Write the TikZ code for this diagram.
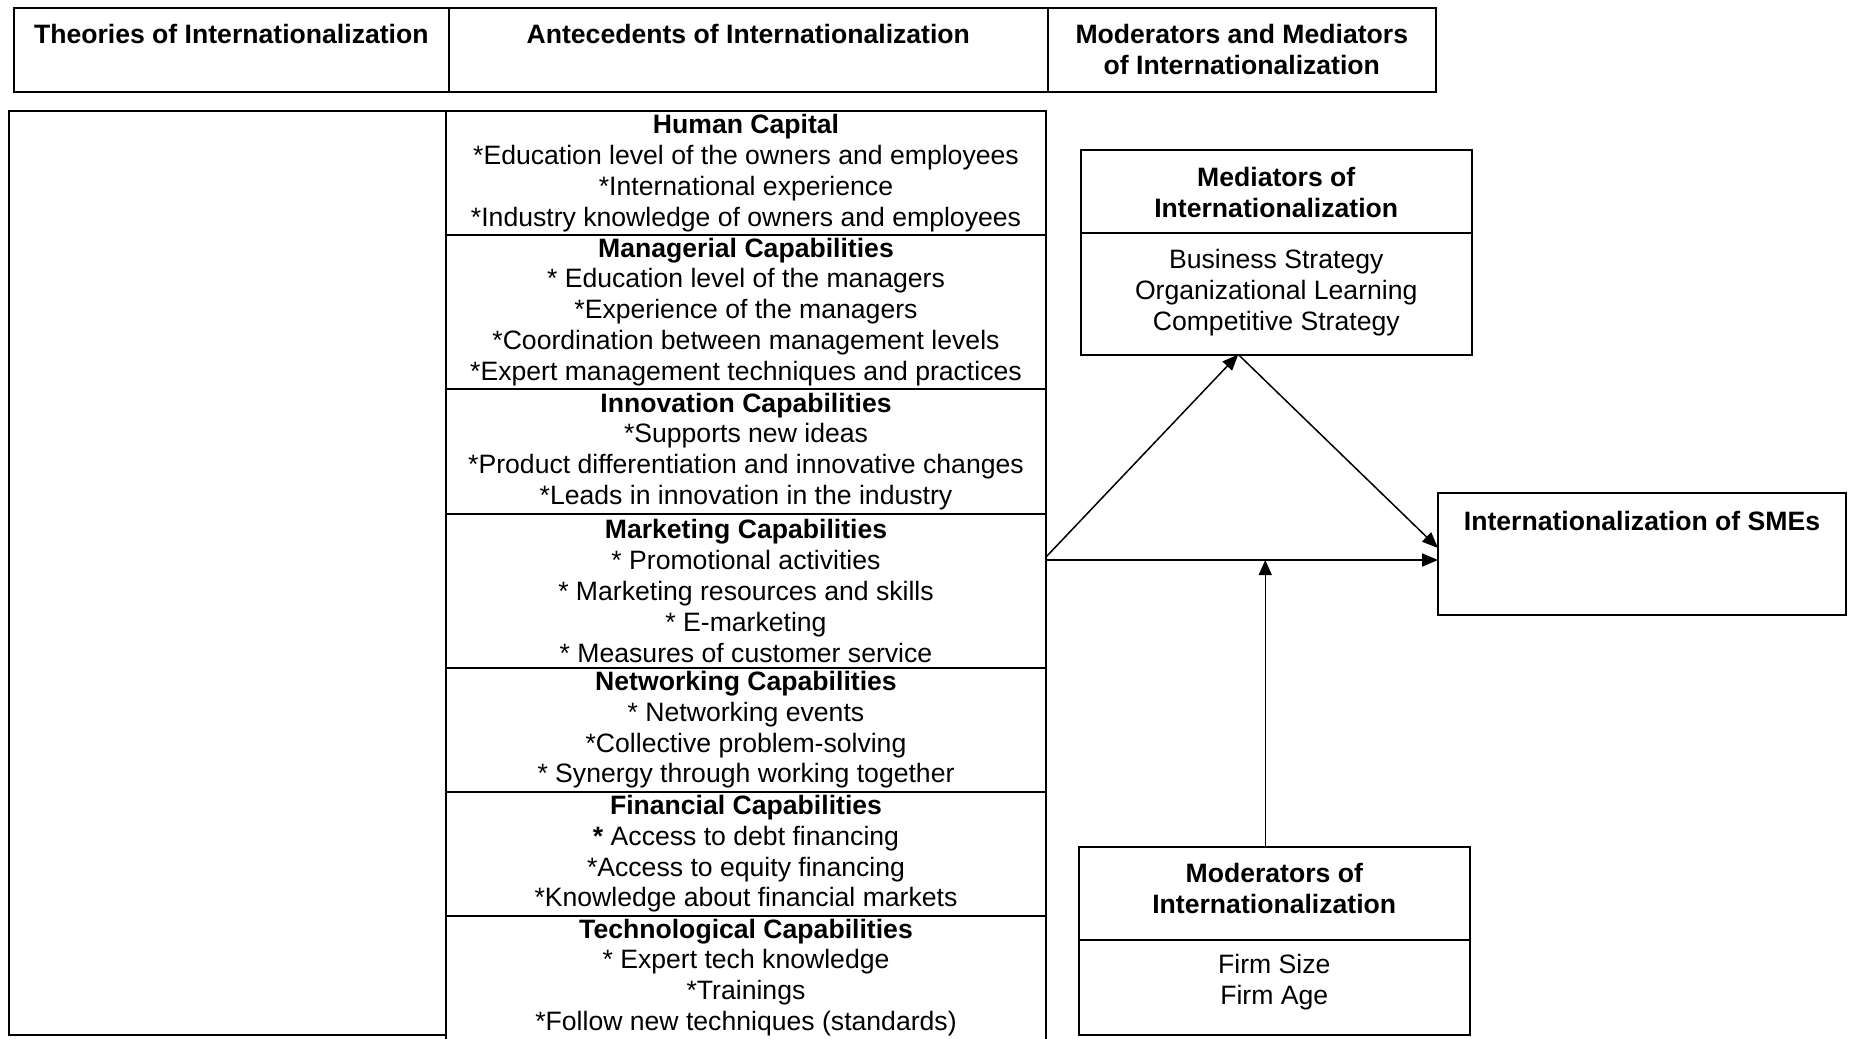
\documentclass[tikz,border=0pt]{standalone}
\usepackage{fontspec}
\setmainfont{Liberation Sans}
\usetikzlibrary{arrows.meta,calc}
\newcommand\diagfont{\fontsize{26.6pt}{30.9pt}\selectfont}
\tikzset{
  frame/.style={draw, line width=2pt, inner sep=0pt, outer sep=0pt},
  sec/.style={frame, anchor=north west, minimum width=600pt, align=center, font=\diagfont},
  txt/.style={inner sep=0pt, outer sep=0pt, align=center, font=\diagfont},
  ttl/.style={txt, font=\diagfont\bfseries},
  arr/.style={line width=1.8pt, -{Triangle[length=16pt,width=13pt]}},
  darr/.style={line width=1.5pt, -{Triangle[length=16pt,width=13pt]}},
  varr/.style={line width=1.3pt, -{Triangle[length=15pt,width=13pt]}}
}
\begin{document}
\begin{tikzpicture}[x=1pt,y=-1pt]
\useasboundingbox (0,0) rectangle (1851,1038);

% header row
\node[frame, anchor=north west, minimum width=434.6pt, minimum height=84.5pt] (h1) at (14,8) {};
\node[frame, anchor=north west, minimum width=599.4pt, minimum height=84.5pt] (h2) at (h1.north east) {};
\node[frame, anchor=north west, minimum width=387.5pt, minimum height=84.5pt] (h3) at (h2.north east) {};
\node[ttl, anchor=base] (t1) at (231.3,43.5) {Theories of Internationalization};
\node[ttl, anchor=base] (t2) at (748.3,43.5) {Antecedents of Internationalization};
\node[ttl, anchor=north] (t3) at (1241.8,24.5) {Moderators and Mediators\\of Internationalization};

% theories column
\node[frame, anchor=north west, minimum width=437.5pt, minimum height=924pt] (theo) at (8.5,111) {};

% antecedents column
\node[sec, minimum height=124pt] (hc) at (446,111)
  {\textbf{Human Capital}\\*Education level of the owners and employees\\*International experience\\*Industry knowledge of owners and employees};
\node[sec, minimum height=154pt] (mgr) at (hc.south west)
  {\textbf{Managerial Capabilities}\\* Education level of the managers\\*Experience of the managers\\*Coordination between management levels\\*Expert management techniques and practices};
\node[sec, minimum height=125pt] (inn) at (mgr.south west)
  {\textbf{Innovation Capabilities}\\*Supports new ideas\\*Product differentiation and innovative changes\\*Leads in innovation in the industry};
\node[sec, minimum height=153.5pt] (mkt) at (inn.south west)
  {\textbf{Marketing Capabilities}\\* Promotional activities\\* Marketing resources and skills\\* E-marketing\\* Measures of customer service};
\node[sec, minimum height=124.5pt] (net) at (mkt.south west)
  {\textbf{Networking Capabilities}\\* Networking events\\*Collective problem-solving\\* Synergy through working together};
\node[sec, minimum height=123.5pt] (fin) at (net.south west)
  {\textbf{Financial Capabilities}\\\textbf{*} Access to debt financing\\*Access to equity financing\\*Knowledge about financial markets};
\node[sec, draw=none, minimum height=124pt] (tec) at (fin.south west)
  {\textbf{Technological Capabilities}\\* Expert tech knowledge\\*Trainings\\*Follow new techniques (standards)};
\draw[line width=2pt] (tec.south west) -- (tec.north west) -- (tec.north east) -- (tec.south east);

% mediators
\node[frame, anchor=north west, minimum width=391.5pt, minimum height=83pt] (medh) at (1080.5,150) {};
\node[frame, anchor=north west, minimum width=391.5pt, minimum height=121.5pt] (med) at (medh.south west) {};
\node[ttl] (medt) at ([yshift=-1pt]medh.center) {Mediators of\\Internationalization};
\node[txt] (medb) at ([yshift=1pt]med.center) {Business Strategy\\Organizational Learning\\Competitive Strategy};

% moderators
\node[frame, anchor=north west, minimum width=390.5pt, minimum height=93.5pt] (modh) at (1079,846.5) {};
\node[frame, anchor=north west, minimum width=390.5pt, minimum height=95pt] (mod) at (modh.south west) {};
\node[ttl] (modt) at ([yshift=5pt]modh.center) {Moderators of\\Internationalization};
\node[txt] (modb) at ([yshift=5pt]mod.center) {Firm Size\\Firm Age};

% outcome
\node[frame, anchor=north west, minimum width=408pt, minimum height=122pt] (sme) at (1438,492.5) {};
\node[ttl, anchor=base] (smet) at ([yshift=23.5pt]sme.center) {Internationalization of SMEs};

% connectors
\path ([yshift=30.75pt]mkt.east) coordinate (src);
\draw[arr] (src) -- (src -| sme.west);
\draw[darr] ([yshift=3pt]src) -- ([xshift=-38pt]med.south);
\draw[darr] ([xshift=-38pt]med.south) -- ([yshift=5.5pt]sme.west);
\draw[varr] ([xshift=-9pt]modh.north) -- ([xshift=-9pt]modh.north |- src);
\end{tikzpicture}
\end{document}
